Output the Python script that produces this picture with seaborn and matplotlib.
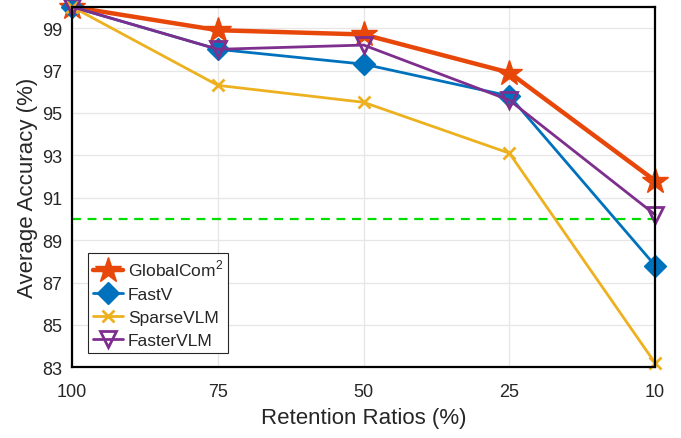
import matplotlib
matplotlib.use("Agg")
import matplotlib.pyplot as plt
import seaborn as sns
import pandas as pd

ratios = ["100", "75", "50", "25", "10"]
globalcom2 = [100.0, 98.9, 98.7, 96.9, 91.8]
fastv = [100.0, 98.0, 97.3, 95.8, 87.8]
sparsevlm = [100.0, 96.3, 95.5, 93.1, 83.2]
fastervlm = [100.0, 98.0, 98.2, 95.6, 90.2]
y_ticks = [83, 85, 87, 89, 91, 93, 95, 97, 99]
threshold = 90

sns.set_theme(style="whitegrid")
plt.rcParams['font.family'] = ['Liberation Sans', 'DejaVu Sans']
plt.rcParams['mathtext.fontset'] = 'custom'
plt.rcParams['mathtext.rm'] = 'Liberation Sans'

fig = plt.figure(figsize=(6.81, 4.39), dpi=100)
ax = fig.add_axes([0.106, 0.161, 0.856, 0.821])

series = [
    ("GlobalCom$^2$", globalcom2, "#E8470A", "*", 3.2, 19, True),
    ("FastV", fastv, "#0072BD", "D", 2.0, 11, True),
    ("SparseVLM", sparsevlm, "#EDB120", "x", 2.0, 9, True),
    ("FasterVLM", fastervlm, "#7E2F8E", "v", 2.0, 12, False),
]

for name, vals, col, mk, lw, ms, filled in series:
    df = pd.DataFrame({"ratio": ratios, "acc": vals})
    kw = dict(markerfacecolor=col if filled else "none", markeredgecolor=col,
              markeredgewidth=2.0 if mk in ("x", "v") else 1.0)
    sns.lineplot(data=df, x="ratio", y="acc", ax=ax, color=col, linewidth=lw,
                 marker=mk, markersize=ms, label=name, sort=False,
                 clip_on=False, zorder=3, **kw)

ax.axhline(threshold, color="#00DD00", linestyle=(0, (4, 3)), linewidth=1.6, zorder=2)

ax.set_xlim(0, len(ratios) - 1)
ax.set_ylim(83, 100)
ax.set_yticks(y_ticks)
ax.set_xlabel("Retention Ratios (%)", fontsize=16, color="#262626", labelpad=5)
ax.set_ylabel("Average Accuracy (%)", fontsize=16, color="#262626", labelpad=3)
ax.tick_params(axis="both", labelsize=13, colors="#262626", direction="in",
               length=4, width=0.8)
ax.tick_params(axis="x", pad=11)
ax.tick_params(axis="y", pad=7)
ax.grid(True, color="#E6E6E6", linewidth=0.9)
for sp in ax.spines.values():
    sp.set_color("black")
    sp.set_linewidth(1.6)
    sp.set_zorder(4)

leg = ax.legend(loc="lower left", bbox_to_anchor=(0.027, 0.04), fontsize=12.5,
                frameon=True, fancybox=False, framealpha=1, edgecolor="#262626",
                borderpad=0.3, labelspacing=0.45, handlelength=1.7,
                handletextpad=0.3, borderaxespad=0)
leg.get_frame().set_linewidth(0.8)

fig.savefig("out.png", dpi=100)
